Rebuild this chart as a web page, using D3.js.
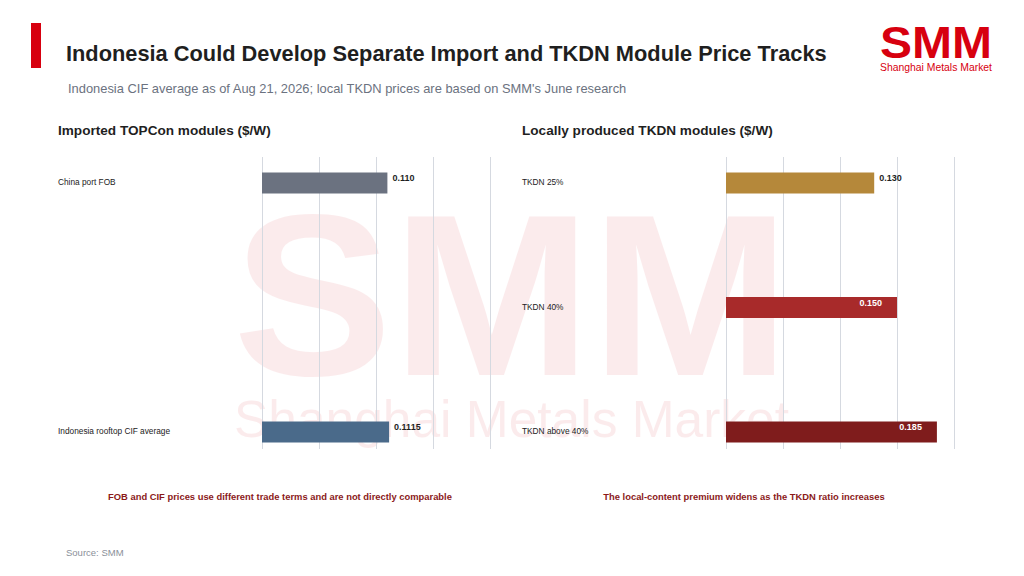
<!DOCTYPE html>
<html>
<head>
<meta charset="utf-8">
<script src="https://cdn.jsdelivr.net/npm/d3@7"></script>
<style>
  body { margin: 0; background: #fff; }
  text { font-family: "Liberation Sans", Arial, sans-serif; }
</style>
</head>
<body>
<svg id="chart" width="1024" height="576"></svg>
<script>
"use strict";
// data
const importLabels = ["China port FOB", "Indonesia rooftop CIF average"];
const importValues = [0.110, 0.1115];
const importText   = ["0.110", "0.1115"];
const tkdnLabels = ["TKDN 25%", "TKDN 40%", "TKDN above 40%"];
const tkdnValues = [0.130, 0.150, 0.185];
const tkdnText   = ["0.130", "0.150", "0.185"];
const xTicks = [0, 0.05, 0.10, 0.15, 0.20];

const svg = d3.select("#chart");

// watermark, sits behind everything
const wm = svg.append("g").attr("opacity", 0.075).attr("fill", "#d7000f");
wm.append("text").attr("x", 233).attr("y", 375)
    .attr("textLength", 557).attr("lengthAdjust", "spacingAndGlyphs")
    .style("font-size", "230px").style("font-weight", "bold")
    .text("SMM");
wm.append("text").attr("x", 234).attr("y", 437)
    .attr("textLength", 555).attr("lengthAdjust", "spacingAndGlyphs")
    .style("font-size", "52px").text("Shanghai Metals Market");

// header
svg.append("rect").attr("x", 31).attr("y", 23).attr("width", 10).attr("height", 45).attr("fill", "#d7000f");
svg.append("text").attr("x", 66).attr("y", 61)
    .style("font-size", "21.8px").style("font-weight", "bold").attr("fill", "#1f1f1f")
    .text("Indonesia Could Develop Separate Import and TKDN Module Price Tracks");
svg.append("text").attr("x", 68).attr("y", 93)
    .style("font-size", "12.9px").attr("fill", "#6b7280")
    .text("Indonesia CIF average as of Aug 21, 2026; local TKDN prices are based on SMM's June research");

// logo
svg.append("text").attr("x", 880).attr("y", 58)
    .attr("textLength", 112).attr("lengthAdjust", "spacingAndGlyphs")
    .style("font-size", "44px").style("font-weight", "bold")
    .attr("fill", "#d7000f").text("SMM");
svg.append("text").attr("x", 880).attr("y", 71)
    .attr("textLength", 112).attr("lengthAdjust", "spacingAndGlyphs")
    .style("font-size", "10.5px").attr("fill", "#d7000f").text("Shanghai Metals Market");

function panel(opt) {
    const g = svg.append("g");
    g.append("text").attr("x", opt.titleX).attr("y", 135)
        .style("font-size", "13.6px").style("font-weight", "bold").attr("fill", "#1f1f1f")
        .text(opt.title);

    const x = d3.scaleLinear().domain([0, 0.2]).range(opt.xRange);
    const y = d3.scalePoint().domain(opt.labels).range([183, 432]);
    const barH = 21;

    // gridlines
    const grid = g.append("g")
        .attr("transform", "translate(0,449)")
        .call(d3.axisBottom(x).tickValues(xTicks).tickSize(-292).tickFormat(""));
    grid.select(".domain").remove();
    grid.selectAll(".tick line").attr("stroke", "#d5d9e0").attr("stroke-width", 1);

    // category labels
    g.selectAll(".cat").data(opt.labels).enter().append("text")
        .attr("x", opt.titleX).attr("y", d => y(d))
        .attr("dominant-baseline", "middle")
        .style("font-size", "8.3px").attr("fill", "#222")
        .text(d => d);

    // bars
    g.selectAll(".bar").data(opt.values).enter().append("rect")
        .attr("x", x(0)).attr("y", (d, i) => y(opt.labels[i]) - barH / 2)
        .attr("width", d => x(d) - x(0)).attr("height", barH)
        .attr("fill", (d, i) => opt.colors[i]);

    // value labels
    g.selectAll(".val").data(opt.values).enter().append("text")
        .attr("x", (d, i) => opt.inside[i] ? x(d) - 15 : x(d) + 5)
        .attr("y", (d, i) => y(opt.labels[i]) - 4)
        .attr("dominant-baseline", "middle")
        .attr("text-anchor", (d, i) => opt.inside[i] ? "end" : "start")
        .style("font-size", "9px").style("font-weight", "bold")
        .attr("fill", (d, i) => opt.inside[i] ? "#fff" : "#1f1f1f")
        .text((d, i) => opt.text[i]);

    g.append("text").attr("x", opt.noteX).attr("y", 500)
        .attr("text-anchor", "middle")
        .style("font-size", "9.4px").style("font-weight", "bold").attr("fill", "#8b1a1a")
        .text(opt.note);
}

panel({
    title: "Imported TOPCon modules ($/W)", titleX: 58, xRange: [262, 490],
    labels: importLabels, values: importValues, text: importText,
    colors: ["#6b7280", "#4a6a8a"], inside: [false, false],
    noteX: 280, note: "FOB and CIF prices use different trade terms and are not directly comparable"
});
panel({
    title: "Locally produced TKDN modules ($/W)", titleX: 522, xRange: [726, 954],
    labels: tkdnLabels, values: tkdnValues, text: tkdnText,
    colors: ["#b5883a", "#a82a2a", "#7f1c1c"], inside: [false, true, true],
    noteX: 744, note: "The local-content premium widens as the TKDN ratio increases"
});

// source
svg.append("text").attr("x", 66).attr("y", 556)
    .style("font-size", "9.5px").attr("fill", "#8a8f99").text("Source: SMM");
</script>
</body>
</html>
